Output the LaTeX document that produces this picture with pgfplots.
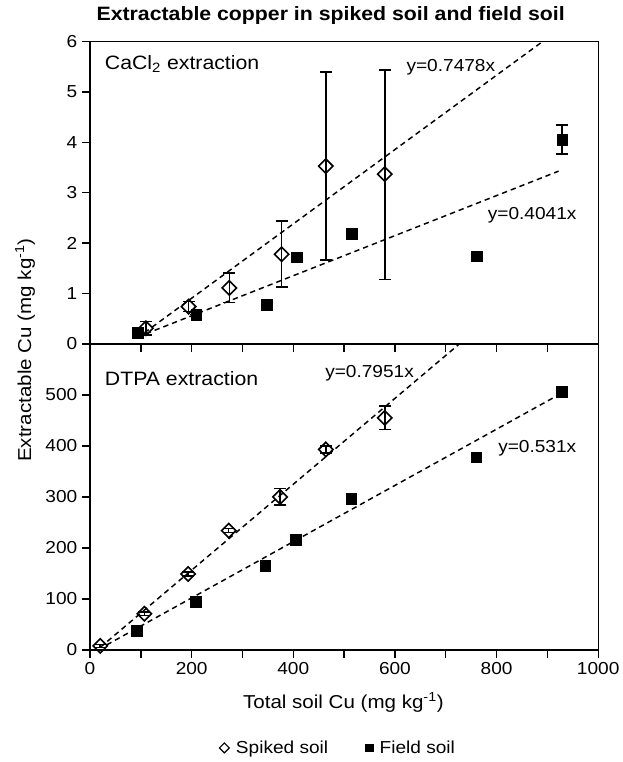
\documentclass[border=0pt]{standalone}
\usepackage{pgfplots}
\pgfplotsset{compat=1.18}
\usepackage{fontspec}
\setmainfont{Liberation Sans}[FakeStretch=1.1]

\pgfplotstableread{
x y ep em
110 0.31 0.13 0.13
194 0.74 0.10 0.10
274 1.11 0.30 0.29
377 1.78 0.66 0.65
464 3.53 1.87 1.86
580 3.37 2.07 2.09
}\spikedCa
\pgfplotstableread{
x y ep em
94 0.22 0 0
209 0.58 0 0
348 0.77 0 0
407 1.72 0 0
515 2.19 0 0
761 1.74 0 0
929 4.06 0.29 0.29
}\fieldCa
\pgfplotstableread{
x y ep em
20 8 3 3
107 71 3 3
193 149 4 4
273 234 4 4
374 300 17 16
464 393 7 7
580 455 23 23
}\spikedDT
\pgfplotstableread{
x y
92 37
208 95
345 165
405 216
514 296
760 378
928 506
}\fieldDT

\begin{document}
\begin{tikzpicture}
\pgfplotsset{
  myax/.style={
    scale only axis, width=381pt,
    xmin=0, xmax=1000,
    axis line style={line width=1pt},
    every tick/.style={line width=1pt, black},
    tick align=outside, tick pos=left,
    major tick length=6pt,
    xtick={0,100,...,1000},
    /pgf/number format/assume math mode=true,
    /pgf/number format/1000 sep={},
    ticklabel style={font=\fontsize{13}{15}\selectfont},
    clip=true,
  },
  fitline/.style={black, line width=1.1pt, dash pattern=on 4pt off 3pt, forget plot},
  spk/.style={black, only marks, mark=square, mark size=3.8pt,
    mark options={rotate=45, fill=white, line width=1.2pt, solid},
    error bars/.cd, y dir=both, y explicit,
    error bar style={line width=1.1pt, black},
    error mark options={rotate=90, mark size=4.5pt, line width=1.1pt, black},
    /pgfplots/.cd},
  fld/.style={black, only marks, mark=square*, mark size=4pt,
    mark options={fill=black, solid},
    error bars/.cd, y dir=both, y explicit,
    error bar style={line width=1.1pt, black},
    error mark options={rotate=90, mark size=4.5pt, line width=1.1pt, black},
    /pgfplots/.cd},
}
% top panel
\begin{axis}[myax, at={(0,229.5pt)}, anchor=south west, height=226.5pt,
  ymin=0, ymax=6, ytick={0,1,...,6}, xticklabels={},
]
\addplot[fitline] coordinates {(107,0.22) (890,6)};
\addplot[fitline] coordinates {(110,0.2) (922,3.43)};
\addplot[spk] table[x=x, y=y, y error plus=ep, y error minus=em] {\spikedCa};
\addplot[fld] table[x=x, y=y, y error plus=ep, y error minus=em] {\fieldCa};
\node[anchor=west, font=\fontsize{14.5}{16}\selectfont] at (axis cs:20,5.56) {CaCl\textsubscript{2} extraction};
\node[font=\fontsize{13}{15}\selectfont] at (axis cs:710,5.49) {y=0.7478x};
\node[font=\fontsize{13}{15}\selectfont] at (axis cs:870,2.56) {y=0.4041x};
\end{axis}
% bottom panel
\begin{axis}[myax, at={(0,0)}, anchor=south west, height=229.5pt,
  ymin=0, ymax=600, ytick={0,100,...,500},
  xticklabels={0,,200,,400,,600,,800,,1000},
  xlabel={Total soil Cu (mg kg\textsuperscript{-1})},
  xlabel style={at={(axis description cs:0.4987,-0.173)}, anchor=center,
    font=\fontsize{14}{16}\selectfont},
  ylabel={Extractable Cu (mg kg\textsuperscript{-1})},
  ylabel style={at={(axis description cs:-0.128,0.98)}, anchor=center,
    font=\fontsize{14}{16}\selectfont},
  legend columns=2,
  legend style={at={(axis description cs:0.489,-0.32)}, anchor=center, draw=none,
    font=\fontsize{13}{15}\selectfont, column sep=3pt,
    /tikz/every even column/.append style={column sep=26pt}},
]
\addplot[fitline] coordinates {(20,5) (727,600)};
\addplot[fitline] coordinates {(33,10) (922,500)};
\addplot[legend image code/.code={\draw[black, line width=0.9pt, fill=white] plot[mark=square, mark size=2.6pt, mark options={rotate=45}] coordinates {(0cm,0cm)};}, spk]
  table[x=x, y=y, y error plus=ep, y error minus=em] {\spikedDT};
\addlegendentry{Spiked soil}
\addplot[legend image code/.code={\draw[black, fill=black] plot[mark=square*, mark size=2.8pt] coordinates {(0cm,0cm)};},
  black, only marks, mark=square*, mark size=4pt]
  table[x=x, y=y] {\fieldDT};
\addlegendentry{Field soil}
\node[anchor=west, font=\fontsize{14.5}{16}\selectfont] at (axis cs:20,532) {DTPA extraction};
\node[font=\fontsize{13}{15}\selectfont] at (axis cs:550,542) {y=0.7951x};
\node[font=\fontsize{13}{15}\selectfont] at (axis cs:880,395) {y=0.531x};
\end{axis}
\node[font=\bfseries\fontsize{14.5}{16}\selectfont] at (180.4pt,476pt) {Extractable copper in spiked soil and field soil};
\pgfresetboundingbox
\path (-67.5pt,-84pt) rectangle (399pt,487.3pt);
\end{tikzpicture}
\end{document}
